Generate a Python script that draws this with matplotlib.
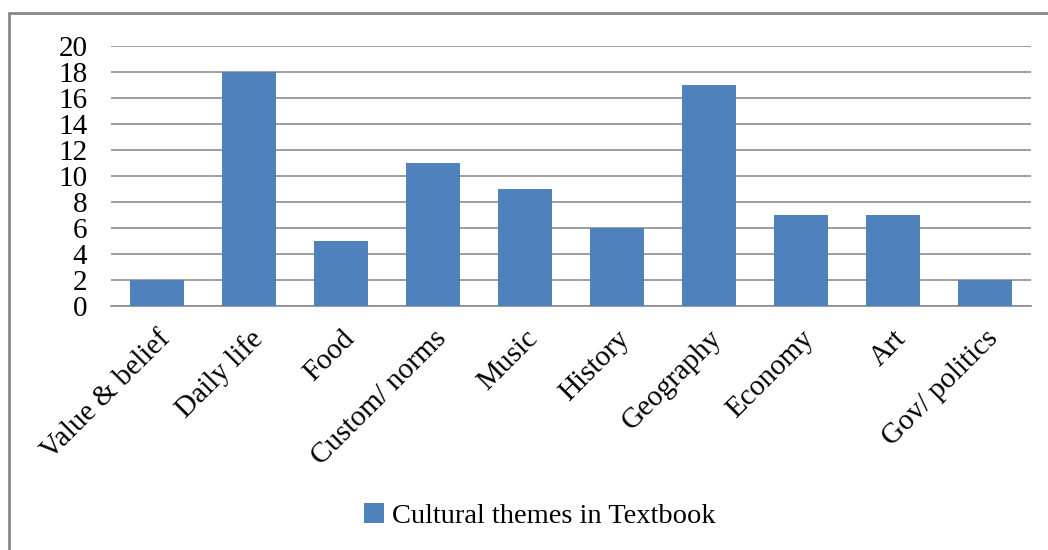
import matplotlib
matplotlib.use("Agg")
import matplotlib.pyplot as plt
from matplotlib.patches import Rectangle

themes = ["Value & belief", "Daily life", "Food", "Custom/ norms", "Music",
          "History", "Geography", "Economy", "Art", "Gov/ politics"]
counts = [2, 18, 5, 11, 9, 6, 17, 7, 7, 2]
series_name = "Cultural themes in Textbook"

BAR = "#4F81BD"
GRID = "#8C8C8C"
FS = 21

plt.rcParams["font.family"] = ["Liberation Serif", "DejaVu Serif"]

fig = plt.figure(figsize=(10.48, 5.5), dpi=100)
ax = fig.add_axes([111 / 1048, 1 - 306 / 550, (1031 - 111) / 1048, (306 - 46) / 550])

x = range(len(themes))
ax.bar(x, counts, width=0.58, color=BAR, label=series_name, zorder=3)
ax.set_xlim(-0.5, len(themes) - 0.5)
ax.set_ylim(0, 20)
ax.set_yticks(range(0, 21, 2))
ax.yaxis.grid(True, color=GRID, lw=1.2, zorder=0)
for s in ("top", "right", "left"):
    ax.spines[s].set_visible(False)
ax.spines["bottom"].set_color(GRID)
ax.spines["bottom"].set_linewidth(1.2)
ax.tick_params(axis="both", length=0, labelsize=FS, colors="black")
ax.tick_params(axis="y", pad=17)
ax.set_xticks(list(x))
ax.set_xticklabels(themes, rotation=45, ha="right", rotation_mode="anchor")
ax.tick_params(axis="x", pad=14)

# outer chart frame (cut off on the right and bottom like the original)
fig.patches.append(Rectangle((9 / 1048, -0.1), 1.2, 1 - 13 / 550 + 0.1,
                             transform=fig.transFigure, fill=False,
                             edgecolor="#878787", lw=2))

fig.legend(loc="center", bbox_to_anchor=(0.515, 1 - 516 / 550), frameon=False,
           fontsize=20.5, handlelength=0.7, handleheight=0.7, handletextpad=0.3)

fig.savefig("out.png", dpi=100)
